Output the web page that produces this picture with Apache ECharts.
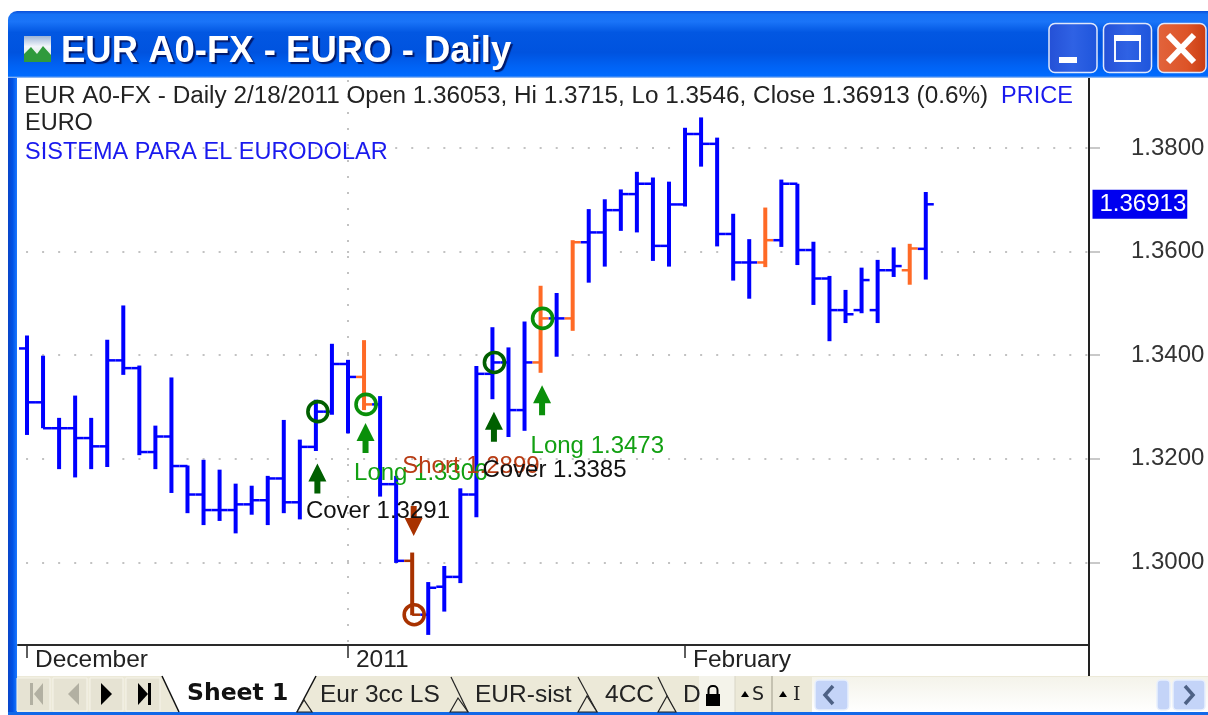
<!DOCTYPE html>
<html>
<head>
<meta charset="utf-8">
<title>EUR A0-FX - EURO - Daily</title>
<script src="https://cdn.jsdelivr.net/npm/echarts@6/dist/echarts.min.js"></script>
<style>
  html, body { margin: 0; padding: 0; background: #fff; }
  #chart { width: 1208px; height: 715px; }
</style>
</head>
<body>
<div id="chart"></div>
<script>
// daily bars, index 0 = first bar of December
const opens = [1.3413, 1.3309, 1.3259, 1.3259, 1.3240, 1.3224, 1.3390, 1.3375, 1.3213, 1.3243,
  1.3186, 1.3131, 1.3101, 1.3101, 1.3112, 1.3120, 1.3162, 1.3116, 1.3223, 1.3291,
  1.3383, 1.3358, 1.3305, 1.3151, 1.3003, 1.2899, 1.2953, 1.2972, 1.3131, 1.3364,
  1.3386, 1.3294, 1.3386, 1.3471, 1.3471, 1.3618, 1.3637, 1.3680, 1.3711, 1.3731,
  1.3611, 1.3691, 1.3827, 1.3808, 1.3634, 1.3579, 1.3579, 1.3622, 1.3731, 1.3603,
  1.3548, 1.3487, 1.3487, 1.3487, 1.3564, 1.3564, 1.36053]
const highs = [1.3438, 1.3399, 1.3279, 1.3322, 1.3279, 1.3430, 1.3496, 1.3380, 1.3264, 1.3357,
  1.3187, 1.3198, 1.3179, 1.3152, 1.3148, 1.3167, 1.3275, 1.3237, 1.3314, 1.3422,
  1.3391, 1.3429, 1.3321, 1.3167, 1.3019, 1.2962, 1.2993, 1.3143, 1.3379, 1.3454,
  1.3415, 1.3465, 1.3534, 1.3520, 1.3622, 1.3682, 1.3701, 1.3720, 1.3754, 1.3743,
  1.3735, 1.3839, 1.3859, 1.3820, 1.3673, 1.3624, 1.3685, 1.3739, 1.3731, 1.3619,
  1.3553, 1.3526, 1.3569, 1.3584, 1.3608, 1.3615, 1.3715]
const lows = [1.3246, 1.3259, 1.3180, 1.3164, 1.3180, 1.3184, 1.3362, 1.3207, 1.3180, 1.3134,
  1.3095, 1.3072, 1.3080, 1.3056, 1.3092, 1.3072, 1.3095, 1.3083, 1.3215, 1.3285,
  1.3249, 1.3294, 1.3127, 1.2999, 1.2898, 1.2860, 1.2905, 1.2960, 1.3087, 1.3315,
  1.3242, 1.3254, 1.3366, 1.3397, 1.3447, 1.3540, 1.3571, 1.3640, 1.3637, 1.3582,
  1.3571, 1.3687, 1.3764, 1.3610, 1.3544, 1.3509, 1.3570, 1.3609, 1.3574, 1.3497,
  1.3427, 1.3462, 1.3481, 1.3462, 1.3551, 1.3536, 1.3546]
const closes = [1.3309, 1.3259, 1.3259, 1.3240, 1.3224, 1.3390, 1.3375, 1.3213, 1.3243, 1.3186,
  1.3131, 1.3101, 1.3101, 1.3112, 1.3120, 1.3162, 1.3116, 1.3223, 1.3291, 1.3383,
  1.3358, 1.3305, 1.3151, 1.3003, 1.2899, 1.2951, 1.2972, 1.3131, 1.3364, 1.3386,
  1.3294, 1.3386, 1.3471, 1.3471, 1.3618, 1.3637, 1.3680, 1.3711, 1.3731, 1.3611,
  1.3691, 1.3827, 1.3808, 1.3634, 1.3579, 1.3579, 1.3622, 1.3731, 1.3603, 1.3548,
  1.3487, 1.3479, 1.3545, 1.3564, 1.3572, 1.3606, 1.36913]

const orangeBars = [21, 32, 34, 46, 55]
const brownBars = [24]

const priceTicks = [1.30, 1.32, 1.34, 1.36, 1.38]
const monthTickBars = [0, 20, 41]
const monthLabels = ['December', '2011', 'February']
const yearBreakBar = 20

// signals: bar index, circle price, arrow price, label price, label
const signalBars = [18, 21, 24, 29, 32]
const signalCircles = [1.3291, 1.3305, 1.2899, 1.3386, 1.3471]
const signalArrows = [1.3162, 1.3240, 1.3080, 1.3262, 1.3313]
const signalLabelPrices = [1.3098, 1.3172, 1.3185, 1.3178, 1.3223]
const signalLabels = ['Cover 1.3291', 'Long 1.3306', 'Short 1.2899', 'Cover 1.3385', 'Long 1.3473']
const signalDirs = ['up', 'up', 'down', 'up', 'up']
const signalColors = ['#005f00', '#0a8f0a', '#a83200', '#005f00', '#0a8f0a']
const signalTextColors = ['#111111', '#12a012', '#b83c14', '#111111', '#12a012']

const lastClose = 1.36913

const BLUE = '#0000ff'
const ORANGE = '#ff6a26'
const BROWN = '#a83200'
const TEXT_FONT = '"Liberation Sans", Arial, sans-serif'

const barData = opens.map((o, i) => [i, o, highs[i], lows[i], closes[i]])

function renderBar(params, api) {
  const i = api.value(0)
  const hi = api.coord([i, api.value(2)])
  const lo = api.coord([i, api.value(3)])
  const op = api.coord([i, api.value(1)])
  const cl = api.coord([i, api.value(4)])
  let color = BLUE
  if (orangeBars.includes(i)) color = ORANGE
  if (brownBars.includes(i)) color = BROWN
  const wick = { stroke: color, lineWidth: 4 }
  const tick = { stroke: color, lineWidth: 2.5 }
  return {
    type: 'group',
    children: [
      { type: 'line', shape: { x1: hi[0], y1: hi[1], x2: lo[0], y2: lo[1] }, style: wick },
      { type: 'line', shape: { x1: op[0] - 8, y1: op[1], x2: op[0], y2: op[1] }, style: tick },
      { type: 'line', shape: { x1: cl[0], y1: cl[1], x2: cl[0] + 8, y2: cl[1] }, style: tick }
    ]
  }
}

const ARROW_UP = 'path://M9,0 L18,18 L12,18 L12,30 L6,30 L6,18 L0,18 Z'
const ARROW_DOWN = 'path://M6,0 L12,0 L12,12 L18,12 L9,30 L0,12 L6,12 Z'

// ---- window chrome, all graphic elements ----
const chrome = []
function rect(x, y, w, h, fill, extra) {
  chrome.push(Object.assign({ type: 'rect', shape: { x, y, width: w, height: h }, style: { fill }, silent: true, z: 20 }, extra || {}))
}
function poly(points, fill, stroke, lineWidth) {
  chrome.push({ type: 'polygon', shape: { points }, style: { fill: fill || 'none', stroke: stroke || 'none', lineWidth: lineWidth || 1 }, silent: true, z: 21 })
}
function line(x1, y1, x2, y2, stroke, lineWidth) {
  chrome.push({ type: 'line', shape: { x1, y1, x2, y2 }, style: { stroke, lineWidth: lineWidth || 1 }, silent: true, z: 21 })
}
function text(x, y, str, fill, font, extra, elProps) {
  chrome.push(Object.assign({ type: 'text', x, y, silent: true, z: 22,
    style: Object.assign({ text: str, fill, font, textVerticalAlign: 'middle' }, extra || {}) }, elProps || {}))
}
function vGrad(stops) {
  return { type: 'linear', x: 0, y: 0, x2: 0, y2: 1, colorStops: stops.map(s => ({ offset: s[0], color: s[1] })) }
}
function hGrad(stops) {
  return { type: 'linear', x: 0, y: 0, x2: 1, y2: 0, colorStops: stops.map(s => ({ offset: s[0], color: s[1] })) }
}

// title bar
rect(8, 11, 1200, 67, vGrad([[0, '#0a4fd8'], [0.05, '#1672f5'], [0.16, '#1a74f8'], [0.32, '#0257e2'],
  [0.62, '#0053df'], [0.82, '#0062f4'], [0.97, '#006bff'], [1, '#b9cdec']]), { shape: { x: 8, y: 11, width: 1200, height: 67, r: [9, 0, 0, 0] } })
rect(8, 78, 9, 637, hGrad([[0, '#0a46c8'], [0.5, '#0052e6'], [1, '#1a78ff']]))
rect(8, 712, 1200, 3, '#1268e8')

// app icon
rect(24, 36, 27, 26, vGrad([[0, '#9db4d6'], [0.4, '#f2f6fb'], [1, '#cfe3cf']]))
poly([[24, 62], [24, 54], [31, 47], [37, 54], [43, 46], [51, 55], [51, 62]], '#2f9a3c')

text(61, 52, 'EUR A0-FX - EURO - Daily', '#ffffff', 'bold 36.5px "Liberation Sans", Arial, sans-serif',
  { textShadowColor: '#00186a', textShadowOffsetX: 2, textShadowOffsetY: 2, textShadowBlur: 1 })

// caption buttons
function capButton(x, fill) {
  chrome.push({ type: 'rect', shape: { x, y: 23.5, width: 48, height: 49, r: 6 }, silent: true, z: 21,
    style: { fill, stroke: '#dfe8fb', lineWidth: 1.5 } })
}
const btnBlue = hGrad([[0, '#2450d6'], [0.5, '#2f62e4'], [1, '#1e55dc']])
capButton(1049, btnBlue)
capButton(1103.5, btnBlue)
capButton(1158, hGrad([[0, '#e2643c'], [0.6, '#dd5428'], [1, '#c83c12']]))
rect(1059, 57, 18, 6, '#ffffff', { z: 22 })
chrome.push({ type: 'rect', shape: { x: 1115, y: 37, width: 25, height: 24 }, silent: true, z: 22, style: { fill: 'none', stroke: '#f4f7ff', lineWidth: 2 } })
rect(1114, 35, 27, 6, '#ffffff', { z: 22 })
line(1168, 35, 1194, 62, '#ffffff', 6)
line(1194, 35, 1168, 62, '#ffffff', 6)

// price scale frame line, runs down to the tab bar
rect(1088, 78, 2, 598, '#222222', { z: 6 })

// tab bar
const TAB_BG = '#ece9d8'
rect(17, 676, 1191, 36, TAB_BG)
;[[17, 33], [53, 34], [90, 33], [126, 34]].forEach(b => {
  chrome.push({ type: 'rect', shape: { x: b[0], y: 678, width: b[1], height: 33 }, silent: true, z: 21,
    style: { fill: '#e6e3d3', stroke: '#f6f4ea', lineWidth: 1 } })
})
rect(30, 683, 3, 22, '#b2b0a2', { z: 22 })
poly([[43, 683], [43, 705], [34, 694]], '#b2b0a2')
poly([[79, 683], [79, 705], [68, 694]], '#b2b0a2')
poly([[101, 683], [101, 705], [112, 694]], '#000000')
poly([[138, 683], [138, 705], [148, 694]], '#000000')
rect(148, 683, 3, 22, '#000000', { z: 22 })

// sheet tabs
poly([[162, 676], [316, 676], [297, 712], [179, 712]], '#ffffff')
line(162, 676, 179, 712, '#111111', 1.5)
line(316, 676, 297, 712, '#111111', 1.5)
poly([[297, 712], [304, 700], [312, 712]], TAB_BG, '#222222', 1.2)
line(451, 677, 468, 712, '#222222', 1.2)
poly([[450, 712], [458, 698], [468, 712]], TAB_BG, '#222222', 1.2)
line(578, 677, 597, 712, '#222222', 1.2)
poly([[578, 712], [587, 696], [597, 712]], TAB_BG, '#222222', 1.2)
line(658, 677, 675, 712, '#222222', 1.2)
poly([[658, 712], [667, 696], [676, 712]], TAB_BG, '#222222', 1.2)
text(187, 694, 'Sheet 1', '#111111', 'bold 23.5px "DejaVu Sans", Verdana, sans-serif')
text(320, 695, 'Eur 3cc LS', '#222222', '24.5px ' + TEXT_FONT)
text(475, 695, 'EUR-sist', '#222222', '24.5px ' + TEXT_FONT)
text(605, 695, '4CC', '#222222', '24.5px ' + TEXT_FONT)
text(683, 695, 'D', '#222222', '24.5px ' + TEXT_FONT)

// lock box, split buttons
rect(699, 676, 36, 36, '#f4f3ea')
rect(706, 694, 14, 12, '#000000', { z: 22 })
chrome.push({ type: 'rect', shape: { x: 708.5, y: 686, width: 9, height: 12, r: 4 }, silent: true, z: 22, style: { fill: 'none', stroke: '#000000', lineWidth: 2 } })
line(772, 676, 772, 712, '#b8b5a4', 1.5)
line(735, 676, 735, 712, '#d8d5c6', 1)
poly([[741, 697], [749, 697], [745, 691]], '#000000')
text(752, 695, 'S', '#222222', '19px "DejaVu Sans", sans-serif')
poly([[779, 697], [787, 697], [783, 691]], '#000000')
text(793, 695, 'I', '#222222', '19px "DejaVu Serif", serif')

// scrollbar
rect(812, 677, 396, 35, vGrad([[0, '#f4f3ea'], [1, '#ffffff']]))
function scrollBtn(x, w) {
  chrome.push({ type: 'rect', shape: { x, y: 680, width: w, height: 30, r: 4 }, silent: true, z: 21,
    style: { fill: '#c4d4f8', stroke: '#e8effd', lineWidth: 1.5 } })
}
scrollBtn(815, 33)
scrollBtn(1157, 13)
scrollBtn(1173, 32)
chrome.push({ type: 'polyline', shape: { points: [[833, 686], [825, 695], [833, 704]] }, silent: true, z: 22, style: { fill: 'none', stroke: '#4d6185', lineWidth: 3.5 } })
chrome.push({ type: 'polyline', shape: { points: [[1185, 686], [1193, 695], [1185, 704]] }, silent: true, z: 22, style: { fill: 'none', stroke: '#4d6185', lineWidth: 3.5 } })

// header lines of the chart pane
text(25, 97, 'EUR A0-FX - Daily 2/18/2011 Open 1.36053, Hi 1.3715, Lo 1.3546, Close 1.36913 (0.6%)', '#222222', '23.5px ' + TEXT_FONT,
  null, { scaleX: 1.034, originX: 25, originY: 97 })
text(1001, 97, 'PRICE', '#1a1aee', '23.5px ' + TEXT_FONT)
text(25, 124, 'EURO', '#222222', '23.5px ' + TEXT_FONT)
text(25, 153, 'SISTEMA PARA EL EURODOLAR', '#1a1aee', '23.5px ' + TEXT_FONT)

const chart = echarts.init(document.getElementById('chart'), null, { renderer: 'canvas' })

const option = {
  animation: false,
  backgroundColor: '#ffffff',
  grid: { left: 18, right: 119, top: 78, bottom: 70 },
  xAxis: {
    type: 'value',
    min: -0.56,
    max: 66.17,
    axisLine: { show: true, onZero: false, lineStyle: { color: '#2a2a2a', width: 2 } },
    axisTick: { show: true, customValues: monthTickBars, length: 13, inside: false, lineStyle: { color: '#2a2a2a', width: 1.5 } },
    axisLabel: {
      customValues: monthTickBars,
      margin: 3,
      fontFamily: TEXT_FONT,
      fontSize: 24.5,
      color: '#222222',
      align: 'left',
      padding: [0, 0, 0, 8],
      formatter: v => monthLabels[monthTickBars.indexOf(v)]
    },
    splitLine: { show: false }
  },
  yAxis: {
    type: 'value',
    position: 'right',
    min: 1.28405,
    max: 1.39351,
    axisLine: { show: false, onZero: false },
    axisTick: { show: true, customValues: priceTicks, length: 11, lineStyle: { color: '#b8b8b8', width: 1.5 } },
    axisLabel: {
      customValues: priceTicks,
      margin: 42,
      fontFamily: TEXT_FONT,
      fontSize: 24,
      color: '#333333',
      formatter: v => v.toFixed(4)
    },
    splitLine: {
      show: true,
      customValues: priceTicks,
      lineStyle: { color: '#c2c2c2', width: 2, type: [2, 14.05], dashOffset: 8 }
    }
  },
  graphic: { elements: chrome },
  series: [
    {
      name: 'PRICE',
      type: 'custom',
      renderItem: renderBar,
      encode: { x: 0, y: [1, 2, 3, 4] },
      data: barData,
      markLine: {
        silent: true,
        symbol: 'none',
        z: 1,
        label: { show: false },
        lineStyle: { color: '#c2c2c2', width: 2, type: [2, 14], dashOffset: 13 },
        data: [{ xAxis: yearBreakBar }]
      },
      z: 3
    },
    {
      name: 'signal circles',
      type: 'scatter',
      symbol: 'circle',
      symbolSize: 20,
      symbolOffset: [2, 0],
      data: signalBars.map((b, i) => ({
        value: [b, signalCircles[i]],
        itemStyle: { borderColor: signalColors[i], color: 'transparent', borderWidth: 3.6, opacity: 1 }
      })),
      z: 4
    },
    {
      name: 'signal arrows',
      type: 'scatter',
      symbolSize: [18, 30],
      symbolOffset: [1.5, 0],
      data: signalBars.map((b, i) => ({
        value: [b, signalArrows[i]],
        symbol: signalDirs[i] === 'up' ? ARROW_UP : ARROW_DOWN,
        itemStyle: { color: signalColors[i], opacity: 1 }
      })),
      z: 4
    },
    {
      name: 'signal labels',
      type: 'scatter',
      symbolSize: 0,
      itemStyle: { opacity: 1 },
      data: signalBars.map((b, i) => ({
        value: [b, signalLabelPrices[i]],
        label: {
          show: true,
          position: [-10, 0],
          align: 'left',
          verticalAlign: 'middle',
          formatter: signalLabels[i],
          fontFamily: TEXT_FONT,
          fontSize: 24,
          color: signalTextColors[i]
        }
      })),
      labelLayout: { hideOverlap: false },
      z: 5
    },
    {
      name: 'last close tag',
      type: 'scatter',
      symbolSize: 0,
      clip: false,
      itemStyle: { opacity: 1 },
      data: [{
        value: [66.17, lastClose],
        label: {
          show: true,
          position: [3.5, 0],
          align: 'left',
          verticalAlign: 'middle',
          formatter: lastClose.toFixed(5),
          fontFamily: TEXT_FONT,
          fontSize: 24,
          color: '#ffffff',
          backgroundColor: '#0000f0',
          padding: [3, 1, 2, 7]
        }
      }],
      z: 5
    }
  ]
}

chart.setOption(option)
</script>
</body>
</html>
